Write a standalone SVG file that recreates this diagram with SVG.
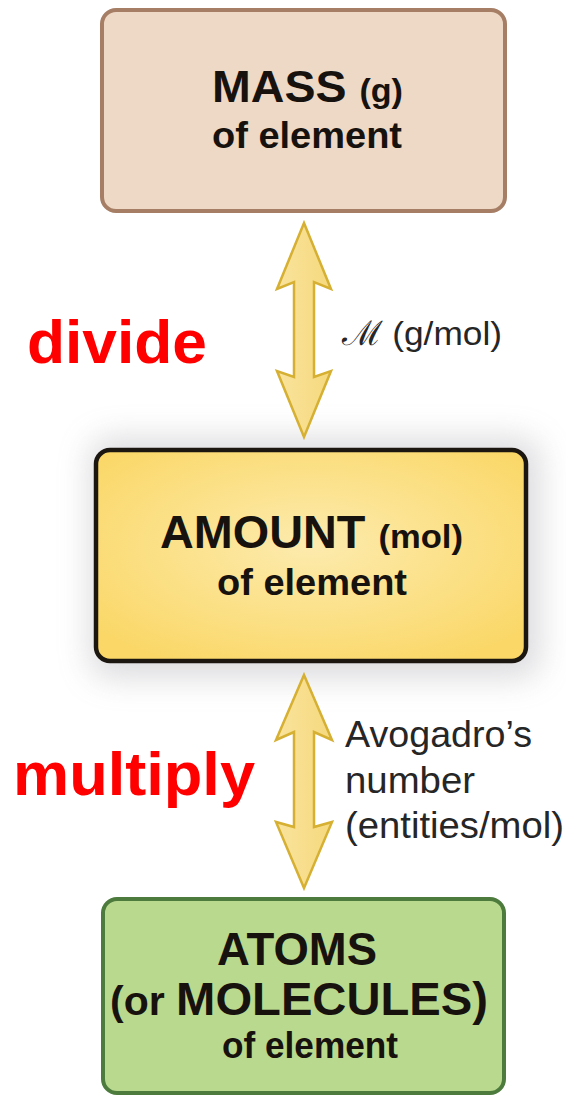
<svg xmlns="http://www.w3.org/2000/svg" width="566" height="1097" viewBox="0 0 566 1097">
  <style>
    .box-text { font-family: "Liberation Sans", Arial, sans-serif; font-weight: bold; fill: #17120e; }
    .label { font-family: "Liberation Sans", Arial, sans-serif; fill: #262626; }
    .op { font-family: "Liberation Sans", Arial, sans-serif; font-weight: bold; fill: #ff0000; }
    .arrow { fill: url(#arrowFill); stroke: #d6b032; stroke-width: 2.5; stroke-linejoin: miter; }
  </style>
  <defs>
    <radialGradient id="amountFill" cx="50%" cy="45%" r="65%">
      <stop offset="0" stop-color="#fdebae"/>
      <stop offset="1" stop-color="#fad766"/>
    </radialGradient>
    <linearGradient id="arrowFill" x1="0" y1="0" x2="1" y2="0">
      <stop offset="0" stop-color="#f9e39c"/>
      <stop offset="1" stop-color="#f6d97e"/>
    </linearGradient>
    <filter id="shadow" x="-30%" y="-40%" width="160%" height="180%">
      <feGaussianBlur stdDeviation="16"/>
    </filter>
  </defs>
  <rect width="566" height="1097" fill="#ffffff"/>

  <!-- soft shadow behind amount box -->
  <rect x="90" y="438" width="450" height="240" rx="20" fill="#9a9aa2" opacity="0.35" filter="url(#shadow)"/>

  <g id="connectors">
    <polygon id="arrow-mass-amount" class="arrow" points="304,223 331,289 314,282 314,377 331,371 304,437 277,371 294,377 294,282 277,289"/>
    <polygon id="arrow-amount-atoms" class="arrow" points="304,675 332,740 314,732 314,827 332,822 304,888 276,822 294,827 294,732 276,740"/>
    <text class="label" font-size="34" x="342" y="345" textLength="160" lengthAdjust="spacingAndGlyphs">ℳ (g/mol)</text>
    <text class="label" font-size="36" x="345" y="747" textLength="187" lengthAdjust="spacingAndGlyphs">Avogadro’s</text>
    <text class="label" font-size="36" x="345" y="793" textLength="130" lengthAdjust="spacingAndGlyphs">number</text>
    <text class="label" font-size="36" x="345" y="838" textLength="219" lengthAdjust="spacingAndGlyphs">(entities/mol)</text>
    <text class="op" font-size="62" x="27" y="363" textLength="180" lengthAdjust="spacingAndGlyphs">divide</text>
    <text class="op" font-size="61" x="13" y="795" textLength="242" lengthAdjust="spacingAndGlyphs">multiply</text>
  </g>

  <g id="mass">
    <rect x="102" y="10" width="403" height="201" rx="14" fill="#edd9c5" stroke="#a67e65" stroke-width="4"/>
    <text class="box-text" x="212" y="102" textLength="191" lengthAdjust="spacingAndGlyphs"><tspan font-size="45">MASS </tspan><tspan font-size="33">(g)</tspan></text>
    <text class="box-text" font-size="36" x="212" y="148" textLength="190" lengthAdjust="spacingAndGlyphs">of element</text>
  </g>

  <g id="amount">
    <rect x="96" y="450" width="430" height="211" rx="14" fill="url(#amountFill)" stroke="#1c1611" stroke-width="4.5"/>
    <text class="box-text" x="160" y="548" textLength="303" lengthAdjust="spacingAndGlyphs"><tspan font-size="46">AMOUNT </tspan><tspan font-size="34">(mol)</tspan></text>
    <text class="box-text" font-size="36" x="217" y="595" textLength="190" lengthAdjust="spacingAndGlyphs">of element</text>
  </g>

  <g id="atoms">
    <rect x="103" y="899" width="401" height="194" rx="14" fill="#b9d98f" stroke="#4c7b3d" stroke-width="4"/>
    <text class="box-text" font-size="46" x="217" y="965" textLength="160" lengthAdjust="spacingAndGlyphs">ATOMS</text>
    <text class="box-text" x="110" y="1015" textLength="378" lengthAdjust="spacingAndGlyphs"><tspan font-size="40">(or </tspan><tspan font-size="46">MOLECULES)</tspan></text>
    <text class="box-text" font-size="36" x="222" y="1058" textLength="176" lengthAdjust="spacingAndGlyphs">of element</text>
  </g>
</svg>
